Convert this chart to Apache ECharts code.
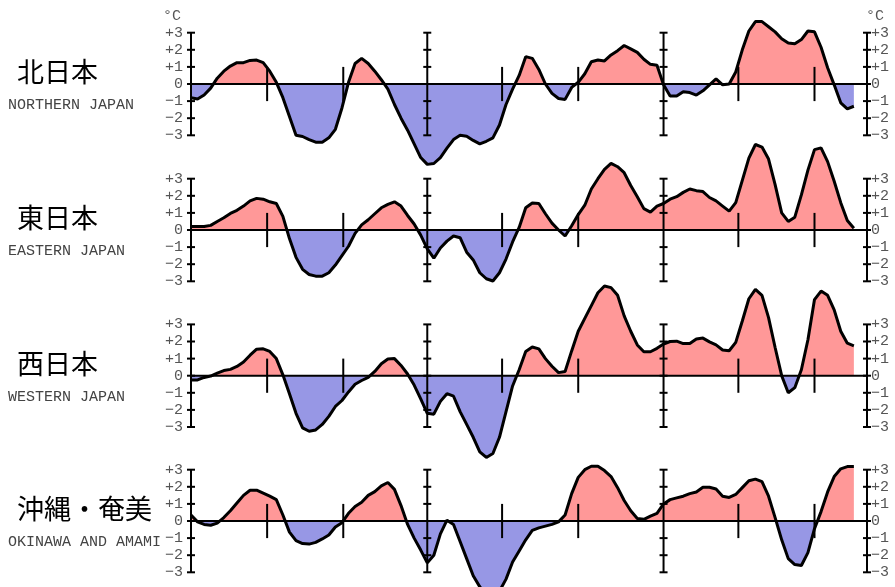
<!DOCTYPE html>
<html><head><meta charset="utf-8">
<script src="https://cdn.jsdelivr.net/npm/echarts@6/dist/echarts.min.js"></script>
<style>html,body{margin:0;padding:0;background:#fff}#c{width:895px;height:587px}</style>
</head><body><div id="c"></div>
<script>
// time step index (旬 ≈ 10-day periods), 36 per year
const periods = Array.from({length: 102}, (_, i) => i);

const northJapan = [-0.8,-0.88,-0.64,-0.24,0.34,0.75,1.05,1.25,1.25,1.38,1.4,1.25,0.75,0.1,-0.8,-1.9,-3.0,-3.07,-3.25,-3.4,
 -3.4,-3.15,-2.65,-1.4,0.1,1.2,1.5,1.2,0.75,0.25,-0.3,-1.2,-2.0,-2.7,-3.5,-4.3,-4.7,-4.65,-4.3,-3.75,
 -3.25,-3.0,-3.05,-3.3,-3.5,-3.35,-3.15,-2.4,-1.2,-0.3,0.5,1.6,1.5,0.85,0.0,-0.55,-0.85,-0.9,-0.2,0.1,
 0.6,1.3,1.4,1.35,1.7,1.95,2.25,2.05,1.85,1.45,1.15,1.1,-0.05,-0.7,-0.7,-0.45,-0.5,-0.65,-0.4,-0.05,
 0.3,-0.05,0.0,0.7,2.0,3.1,3.65,3.65,3.35,3.05,2.65,2.4,2.35,2.6,3.1,3.05,2.15,0.95,-0.05,-1.1,
 -1.45,-1.3];
const eastJapan = [0.2,0.2,0.2,0.27,0.5,0.72,0.97,1.15,1.4,1.7,1.85,1.8,1.65,1.55,0.8,-0.5,-1.6,-2.3,-2.6,-2.7,
 -2.7,-2.5,-2.05,-1.5,-0.95,-0.2,0.3,0.6,0.95,1.3,1.5,1.65,1.4,0.85,0.35,-0.3,-1.1,-1.65,-1.05,-0.65,
 -0.35,-0.45,-1.3,-1.75,-2.5,-2.85,-2.98,-2.5,-1.7,-0.7,0.15,1.3,1.58,1.55,0.95,0.4,0.0,-0.35,0.25,0.9,
 1.45,2.4,3.0,3.55,3.9,3.7,3.35,2.6,1.95,1.25,1.05,1.4,1.55,1.8,1.95,2.2,2.4,2.3,2.25,1.9,
 1.7,1.4,1.1,1.6,2.9,4.2,5.0,4.85,4.15,2.65,1.0,0.5,0.75,2.05,3.5,4.7,4.8,4.0,2.85,1.6,
 0.55,0.1];
const westJapan = [-0.25,-0.25,-0.1,-0.02,0.15,0.3,0.37,0.54,0.8,1.2,1.55,1.57,1.42,1.0,0.05,-1.05,-2.2,-3.05,-3.25,-3.17,
 -2.85,-2.38,-1.8,-1.45,-0.95,-0.5,-0.28,-0.1,0.25,0.7,0.98,1.0,0.6,0.1,-0.55,-1.35,-2.2,-2.25,-1.5,-1.05,
 -1.2,-2.1,-2.85,-3.6,-4.45,-4.78,-4.55,-3.6,-2.1,-0.6,0.35,1.42,1.68,1.57,1.0,0.55,0.18,0.25,1.45,2.6,
 3.35,4.1,4.85,5.25,5.15,4.7,3.5,2.6,1.8,1.4,1.4,1.6,1.85,2.0,2.02,1.88,1.88,2.15,2.2,1.98,
 1.8,1.5,1.46,1.95,3.2,4.5,5.05,4.7,3.4,1.65,0.0,-1.0,-0.7,0.35,2.1,4.45,4.95,4.7,3.85,2.6,
 1.9,1.75];
const okinawaAmami = [0.35,-0.05,-0.2,-0.25,-0.12,0.2,0.6,1.05,1.5,1.8,1.8,1.63,1.45,1.25,0.35,-0.65,-1.15,-1.32,-1.35,-1.25,
 -1.05,-0.82,-0.35,-0.1,0.45,0.85,1.1,1.5,1.72,2.05,2.25,1.85,0.9,-0.2,-1.0,-1.7,-2.45,-2.0,-0.75,0.05,
 -0.2,-1.2,-2.2,-3.2,-3.85,-4.3,-4.5,-4.1,-3.4,-2.4,-1.75,-1.1,-0.55,-0.4,-0.3,-0.2,-0.05,0.35,1.6,2.55,
 3.0,3.2,3.2,2.95,2.6,1.95,1.2,0.6,0.15,0.1,0.28,0.45,1.0,1.25,1.35,1.45,1.6,1.7,1.97,1.97,
 1.87,1.45,1.38,1.55,1.95,2.35,2.45,2.3,1.45,0.2,-1.1,-2.2,-2.55,-2.6,-1.85,-0.45,0.55,1.7,2.6,3.05,
 3.18,3.18];

const regionSeries = [northJapan, eastJapan, westJapan, okinawaAmami];
const regionNames = ['北日本', '東日本', '西日本', '沖縄・奄美'];
const regionNamesEn = ['NORTHERN JAPAN', 'EASTERN JAPAN', 'WESTERN JAPAN', 'OKINAWA AND AMAMI'];
const yearAxes = [0, 36, 72, 103];          // framed axes (left edge, year starts, right edge)
const seasonTicks = [11.6, 23.2, 47.4, 59, 83.4, 95];
const yTicks = [-3, -2, -1, 0, 1, 2, 3];
const xMax = 103;

// layout
const zeroY = [84, 230, 375.7, 521];
const unit = 17.1;
const yMins = [-5, -5.5, -5.5, -3.8];
const yMaxs = [4, 5.5, 5.5, 5.5];
const RED = '#ff9898', BLUE = '#9797e5';
const labelFont = 'Liberation Mono';

function fmt(v) {
  if (v > 0) return '+' + v;
  if (v < 0) return '\u2212' + (-v);
  return '0';
}

function renderDeco(params, api) {
  const xv = api.value(0), kind = api.value(1);
  const st = {stroke: '#000', lineWidth: 2};
  const ch = [];
  const seg = (a, b) => ch.push({type: 'line', shape: {x1: a[0], y1: a[1], x2: b[0], y2: b[1]}, style: st});
  if (kind === 2) {
    seg(api.coord([0, 0]), api.coord([xMax, 0]));
  } else if (kind === 1) {
    seg(api.coord([xv, 3]), api.coord([xv, -3]));
    yTicks.forEach(v => {
      const p = api.coord([xv, v]);
      seg([p[0] - 4, p[1]], [p[0] + 4, p[1]]);
    });
  } else {
    seg(api.coord([xv, 1]), api.coord([xv, -1]));
  }
  return {type: 'group', children: ch};
}

const decoData = [[0, 2]].concat(yearAxes.map(x => [x, 1]), seasonTicks.map(x => [x, 0]));

const grid = [], xAxis = [], yAxis = [], series = [], areaIdx = [], graphic = [];
regionSeries.forEach((vals, k) => {
  const yMax = yMaxs[k], yMin = yMins[k];
  grid.push({left: 191, right: 28, top: zeroY[k] - yMax * unit, height: (yMax - yMin) * unit});
  xAxis.push({gridIndex: k, type: 'value', min: 0, max: xMax, show: false});
  const yBase = {gridIndex: k, type: 'value', min: yMin, max: yMax,
    axisLine: {show: false}, axisTick: {show: false}, splitLine: {show: false}};
  yAxis.push(Object.assign({}, yBase, {position: 'left',
    axisLabel: {customValues: yTicks, formatter: fmt, color: '#555', fontFamily: labelFont, fontSize: 15, margin: 8}}));
  yAxis.push(Object.assign({}, yBase, {position: 'right',
    axisLabel: {customValues: yTicks, formatter: fmt, color: '#555', fontFamily: labelFont, fontSize: 15, margin: 4}}));
  const data = periods.map((p, i) => [p, vals[i]]);
  areaIdx.push(series.length);
  series.push({type: 'line', xAxisIndex: k, yAxisIndex: 2 * k, data, symbol: 'none', silent: true,
    lineStyle: {width: 0}, areaStyle: {opacity: 1}, z: 1, clip: false});
  series.push({type: 'custom', xAxisIndex: k, yAxisIndex: 2 * k, data: decoData, renderItem: renderDeco,
    silent: true, z: 2, clip: false});
  series.push({type: 'line', xAxisIndex: k, yAxisIndex: 2 * k, data, symbol: 'none', silent: true,
    lineStyle: {color: '#000', width: 3}, z: 3, clip: false});
  graphic.push({type: 'text', x: 17, y: zeroY[k] - 12,
    style: {text: regionNames[k], fontFamily: 'Noto Sans CJK JP', fontSize: 27, fill: '#000', verticalAlign: 'middle'}});
  graphic.push({type: 'text', x: 8, y: zeroY[k] + 21,
    style: {text: regionNamesEn[k], fontFamily: labelFont, fontSize: 15, fill: '#444', verticalAlign: 'middle'}});
});
graphic.push({type: 'text', x: 181, y: 16, style: {text: '°C', fontFamily: labelFont, fontSize: 15, fill: '#555', align: 'right', verticalAlign: 'middle'}});
graphic.push({type: 'text', x: 866, y: 16, style: {text: '°C', fontFamily: labelFont, fontSize: 15, fill: '#555', align: 'left', verticalAlign: 'middle'}});

const chart = echarts.init(document.getElementById('c'), null, {renderer: 'canvas'});
chart.setOption({
  animation: false,
  backgroundColor: '#fff',
  grid, xAxis, yAxis, series, graphic,
  visualMap: {type: 'piecewise', show: false, seriesIndex: areaIdx, dimension: 1,
    pieces: [{lte: 0, color: BLUE}, {gt: 0, lte: 50, color: RED}, {gt: 50, color: RED}]}
});
</script></body></html>
